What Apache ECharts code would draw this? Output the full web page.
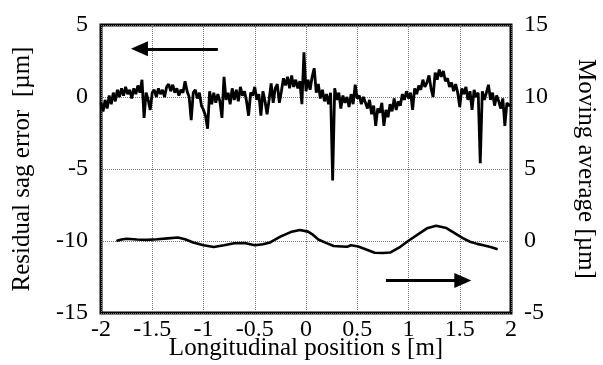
<!DOCTYPE html>
<html>
<head>
<meta charset="utf-8">
<script src="https://cdn.jsdelivr.net/npm/echarts@6/dist/echarts.min.js"></script>
<style>
html,body{margin:0;padding:0;background:#fff;}
#c{width:603px;height:365px;}
</style>
</head>
<body>
<div id="c"></div>
<script>
// Residual sag error [µm], sampled every 0.02 m from s = -2 to s = 2
const sagStart = -2;
const sagStep = 0.02;
const sagError = [
  -0.4, -1.0, -0.2, -0.8, 0.1, -0.5, 0.3, -0.3, 0.5, 0.0,
  0.6, 0.1, 0.7, 0.2, 0.5, -0.1, 0.6, 0.2, 0.8, 0.3,
  1.2, -1.45, 0.3, -0.2, -0.9, 0.3, 0.5, 0.0, 0.6, 0.2,
  0.5, 0.0, 0.7, 0.9, 0.4, 0.85, 0.3, 0.6, 0.1, 0.5,
  0.3, 1.1, 0.4, 0.0, -1.6, 0.3, 0.5, -0.1, 0.3, -0.6,
  -0.9, -1.3, -2.2, 0.4, -0.5, 0.3, -0.4, 0.2, -0.3, -1.45,
  1.4, -0.2, 0.3, -0.5, 0.6, -0.2, 0.5, -0.3, 0.7, 0.1,
  0.4, -0.3, -1.3, 0.3, 0.1, 0.7, -0.2, 0.2, -1.3, 0.4,
  -0.3, -1.2, -0.2, 0.95, -0.4, 0.6, 0.9, -0.4, 0.4, 1.3,
  0.8, 1.4, 0.6, 1.5, 0.7, 1.2, 0.6, 1.1, -0.5, 3.1,
  0.4, 1.2, 0.5, 1.4, 2.0, 0.3, 0.9, -0.1, 0.5, -0.3,
  0.2, -0.5, 0.3, -5.8, 0.6, -0.2, 0.3, -0.8, 0.1, -0.4,
  0.0, -0.7, 0.2, -0.5, 0.85, -0.1, 0.1, -0.5, 0.0, -0.4,
  -0.8, -0.2, -1.2, -0.6, -2.0, -0.8, -1.1, -0.4, -2.0, -0.9,
  -1.4, -0.5, -1.0, -0.1, -0.9, -0.3, -0.6, 0.2, -0.2, 0.4,
  -0.1, 0.3, -0.9, 0.6, 0.2, 0.8, 0.5, 1.2, 0.7, 1.0,
  1.5, 0.6, 0.0, 1.7, 1.2, 1.9, 1.4, 1.8, 1.1, 1.3,
  0.7, 1.0, 0.4, 0.9, 0.3, -0.7, 0.6, 0.2, 0.7, -0.2,
  0.4, -0.9, 0.5, 0.0, 0.3, -4.6, 0.4, -0.2, 0.3, 0.85,
  -0.2, 0.3, -0.6, 0.1, -0.3, -0.8, -0.1, -2.0, -0.4, -0.6,
  -0.5
];

// Moving average [µm] (right axis)
const maPos = [-1.85, -1.8, -1.75, -1.65, -1.55, -1.45, -1.35, -1.25, -1.18, -1.1, -1.0, -0.9, -0.8, -0.7, -0.6, -0.5, -0.42, -0.35, -0.25, -0.15, -0.06, 0.02, 0.07, 0.12, 0.2, 0.27, 0.35, 0.40, 0.44, 0.51, 0.6, 0.67, 0.75, 0.82, 0.92, 1.01, 1.1, 1.18, 1.27, 1.37, 1.45, 1.53, 1.60, 1.67, 1.73, 1.8, 1.87];
const maVal = [0.0, 0.1, 0.16, 0.1, 0.08, 0.12, 0.18, 0.24, 0.12, -0.1, -0.3, -0.42, -0.3, -0.16, -0.14, -0.3, -0.22, -0.1, 0.3, 0.62, 0.76, 0.65, 0.42, 0.1, -0.15, -0.35, -0.38, -0.4, -0.3, -0.38, -0.62, -0.82, -0.83, -0.8, -0.4, 0.07, 0.5, 0.88, 1.06, 0.9, 0.55, 0.2, -0.05, -0.2, -0.3, -0.42, -0.58];

// Direction arrows (annotation, left-axis units)
const arrowLeft = [[-0.86, 3.35], [-1.625, 3.35]];
const arrowRight = [[0.78, -12.74], [1.53, -12.74]];

const xTicks = { min: -2, max: 2, interval: 0.5 };
const yLeftTicks = { min: -15, max: 5, interval: 5 };
const yRightTicks = { min: -5, max: 15, interval: 5 };

const sagData = sagError.map((v, i) => [+(sagStart + i * sagStep).toFixed(2), v]);
const maData = maPos.map((p, i) => [p, maVal[i]]);

const FONT = 'Liberation Serif';
const chart = echarts.init(document.getElementById('c'));
chart.setOption({
  animation: false,
  backgroundColor: '#fff',
  grid: { left: 101, right: 92, top: 25, bottom: 52, containLabel: false, outerBoundsMode: 'none', show: true, borderColor: '#000', borderWidth: 3, backgroundColor: 'transparent' },
  xAxis: {
    type: 'value', min: xTicks.min, max: xTicks.max, interval: xTicks.interval,
    name: 'Longitudinal position s [m]', nameLocation: 'middle', nameGap: 23, nameMoveOverlap: false,
    nameTextStyle: { fontFamily: FONT, fontSize: 25, color: '#000' },
    axisLine: { show: false }, axisTick: { show: false },
    axisLabel: { fontFamily: FONT, fontSize: 24, color: '#000', margin: 5 },
    splitLine: { show: true, lineStyle: { type: 'dotted', color: '#777', width: 1 } }
  },
  yAxis: [
    {
      type: 'value', min: yLeftTicks.min, max: yLeftTicks.max, interval: yLeftTicks.interval,
      name: 'Residual sag error  [µm]', nameLocation: 'middle', nameGap: 66, nameRotate: 90, nameMoveOverlap: false,
      nameTextStyle: { fontFamily: FONT, fontSize: 25, color: '#000' },
      axisLine: { show: false }, axisTick: { show: false },
      axisLabel: { fontFamily: FONT, fontSize: 24, color: '#000', margin: 13 },
      splitLine: { show: true, lineStyle: { type: 'dotted', color: '#777', width: 1 } }
    },
    {
      type: 'value', position: 'right', min: yRightTicks.min, max: yRightTicks.max, interval: yRightTicks.interval,
      name: 'Moving average [µm]', nameLocation: 'middle', nameGap: 62, nameRotate: -90, nameMoveOverlap: false,
      nameTextStyle: { fontFamily: FONT, fontSize: 25, color: '#000' },
      axisLine: { show: false }, axisTick: { show: false },
      axisLabel: { fontFamily: FONT, fontSize: 24, color: '#000', margin: 13 },
      splitLine: { show: false }
    }
  ],
  series: [
    {
      type: 'line', data: sagData, yAxisIndex: 0, showSymbol: false,
      lineStyle: { color: '#000', width: 2.8 }, z: 3,
      markLine: {
        silent: true, symbol: ['none', 'triangle'], symbolSize: [15, 17],
        label: { show: false },
        lineStyle: { type: 'solid', color: '#000', width: 3 },
        data: [
          [{ coord: arrowLeft[0] }, { coord: arrowLeft[1] }],
          [{ coord: arrowRight[0] }, { coord: arrowRight[1] }]
        ]
      }
    },
    {
      type: 'line', data: maData, yAxisIndex: 1, showSymbol: false,
      lineStyle: { color: '#000', width: 2.6 }, z: 3
    }
  ]
});
</script>
</body>
</html>
